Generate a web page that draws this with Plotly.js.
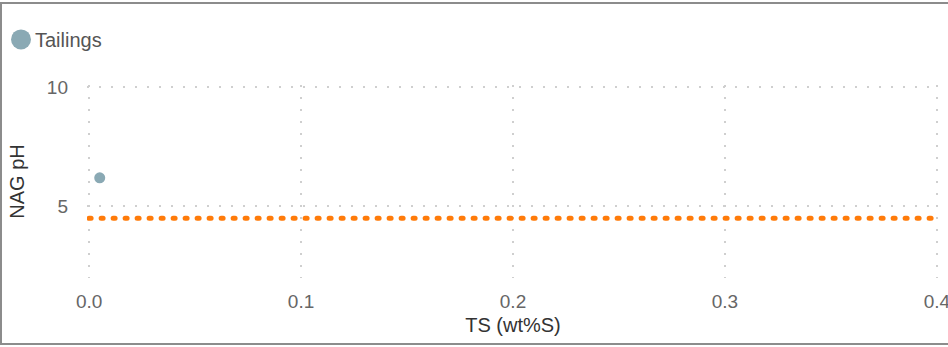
<!DOCTYPE html>
<html>
<head>
<meta charset="utf-8">
<script src="https://cdn.plot.ly/plotly-3.0.1.min.js"></script>
<style>
  html, body { margin: 0; padding: 0; background: #fff; overflow: hidden; }
  #frame { position: absolute; left: 0; top: 2px; width: 960px; height: 343px; box-sizing: border-box;
           border: 2px solid #8c8c8c; overflow: hidden; background: #fff; }
  #chart { position: absolute; left: 0; top: 0; width: 956px; height: 339px; }
  .js-line { stroke-linecap: round; }
</style>
</head>
<body>
<div id="frame"><div id="chart"></div></div>
<script>
// Data
const seriesName = "Tailings";
const tailingsTS = [0.005];      // TS (wt%S)
const tailingsNAGpH = [6.2];     // NAG pH
const thresholdTS = [0, 0.4];    // threshold line extent
const thresholdPH = [4.5, 4.5];  // NAG pH = 4.5 threshold
const xTickVals = [0, 0.1, 0.2, 0.3, 0.4];
const xTickText = ["0.0", "0.1", "0.2", "0.3", "0.4"];
const yTickVals = [5, 10];
const yTickText = ["5", "10"];

const fontFam = 'Arial, "Liberation Sans", sans-serif';

const traces = [
  {
    x: thresholdTS, y: thresholdPH, type: 'scatter', mode: 'lines',
    line: { color: '#ff7b0a', width: 5, dash: '2px,10px' },
    showlegend: false, hoverinfo: 'skip'
  },
  {
    x: tailingsTS, y: tailingsNAGpH, type: 'scatter', mode: 'markers',
    name: seriesName,
    marker: { color: '#8aa9b4', size: 11 }
  }
];

const layout = {
  width: 956, height: 339,
  margin: { l: 85, r: 19, t: 81, b: 65 },
  paper_bgcolor: '#fff', plot_bgcolor: '#fff',
  font: { family: fontFam, size: 19, color: '#666' },
  showlegend: true,
  legend: {
    xref: 'container', yref: 'container', x: 0, y: 0.953, xanchor: 'left', yanchor: 'top',
    orientation: 'h', font: { size: 20, color: '#555' }, itemsizing: 'trace',
    bgcolor: 'rgba(0,0,0,0)'
  },
  xaxis: {
    range: [-0.001, 0.401], tickvals: xTickVals, ticktext: xTickText,
    showgrid: true, gridcolor: '#cfcfcf', gridwidth: 2, griddash: '2px,10px',
    zeroline: false, showline: false, ticks: '', ticklabelstandoff: 10,
    title: { text: 'TS (wt%S)', font: { size: 20, color: '#333' }, standoff: 6 },
    fixedrange: true
  },
  yaxis: {
    range: [2, 10.09], tickvals: yTickVals, ticktext: yTickText,
    showgrid: true, gridcolor: '#cfcfcf', gridwidth: 2, griddash: '2px,10px',
    zeroline: false, showline: false, ticks: '', ticklabelstandoff: 18,
    title: { text: 'NAG pH', font: { size: 20, color: '#333' }, standoff: 16 },
    fixedrange: true
  }
};

Plotly.newPlot('chart', traces, layout, { staticPlot: true, displayModeBar: false }).then(function (gd) {
  // enlarge the legend symbol and tighten the gap to the label, as in the reference
  gd.querySelectorAll('.legend .legendpoints path.scatterpts').forEach(function (p) {
    p.setAttribute('d', 'M10,0A10,10 0 1,1 0,-10A10,10 0 0,1 10,0Z');
    p.setAttribute('transform', 'translate(19,0)');
  });
  gd.querySelectorAll('.legend text.legendtext').forEach(function (t) {
    t.setAttribute('x', '33');
  });
});
</script>
</body>
</html>
